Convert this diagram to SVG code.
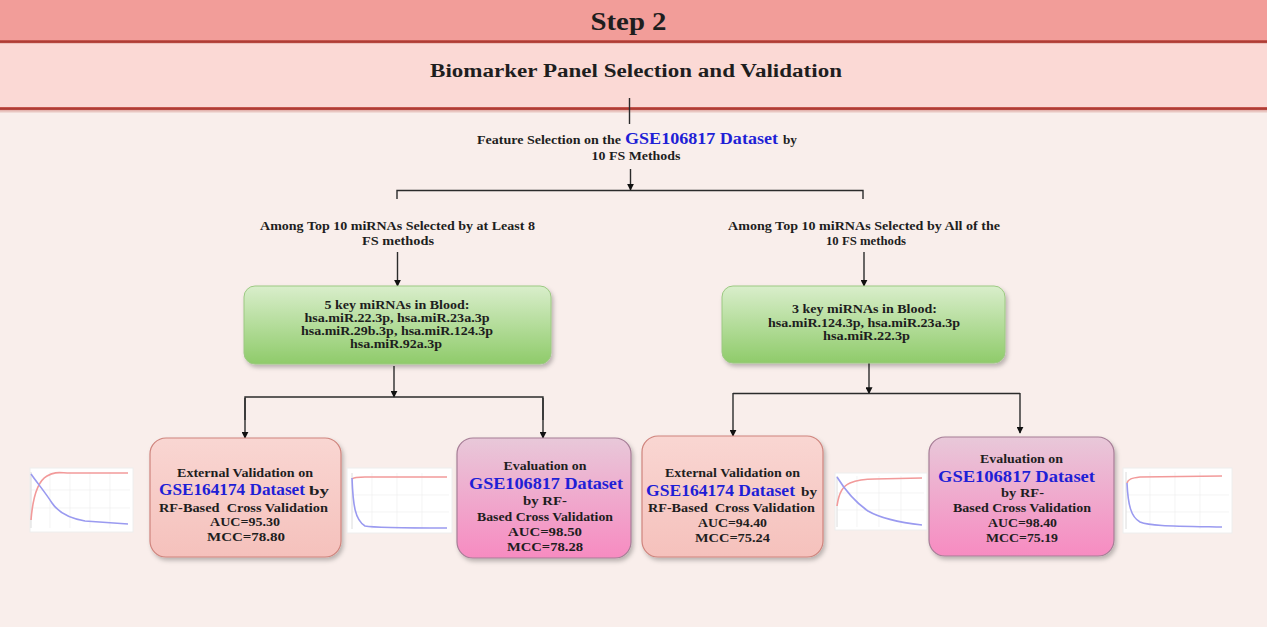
<svg xmlns="http://www.w3.org/2000/svg" width="1267" height="627" viewBox="0 0 1267 627">
<defs>
<style>
text{font-family:'Liberation Serif','Times New Roman',Times,serif;font-weight:700}
.t{fill:#1e1e1e;font-size:13.5px;text-anchor:middle}
.b{fill:#1f1fd6;font-size:16.5px}
.s{text-anchor:start}
.ln{fill:none;stroke:#2b2b2b;stroke-width:1.4}
.grid{stroke:#ececec;stroke-width:0.6}
.red{fill:none;stroke:#f29a9a;stroke-width:1.6}
.blue{fill:none;stroke:#9a9af0;stroke-width:1.6}
.chart{fill:#ffffff;stroke:#eeeeee;stroke-width:1}
</style>
<marker id="ah" viewBox="0 0 10 10" refX="9" refY="5" markerWidth="5" markerHeight="5" orient="auto" markerUnits="strokeWidth">
<path d="M0,0 L10,5 L0,10 z" fill="#111"/>
</marker>
<linearGradient id="gGreen" x1="0" y1="0" x2="0" y2="1">
<stop offset="0" stop-color="#d9eecb"/>
<stop offset="1" stop-color="#8fcb6a"/>
</linearGradient>
<linearGradient id="gPink" x1="0" y1="0" x2="0" y2="1">
<stop offset="0" stop-color="#f9d6d2"/>
<stop offset="1" stop-color="#f5c1bc"/>
</linearGradient>
<linearGradient id="gPurple" x1="0" y1="0" x2="0" y2="1">
<stop offset="0" stop-color="#e8c8d9"/>
<stop offset="1" stop-color="#f78bc1"/>
</linearGradient>
<linearGradient id="gLine" x1="0" y1="0" x2="0" y2="1">
<stop offset="0" stop-color="#d0625a"/>
<stop offset="0.5" stop-color="#a8362f"/>
<stop offset="1" stop-color="#c65a52"/>
</linearGradient>
<filter id="sh" x="-10%" y="-10%" width="125%" height="130%">
<feDropShadow dx="2" dy="3" stdDeviation="2" flood-color="#000" flood-opacity="0.25"/>
</filter>
</defs>

<rect x="0" y="0" width="1267" height="627" fill="#f9eeeb"/>

<g id="header">
<rect x="0" y="0" width="1267" height="41" fill="#f29d99"/>
<rect x="0" y="40" width="1267" height="3.5" fill="url(#gLine)"/>
<rect x="0" y="43.5" width="1267" height="63.5" fill="#fbd9d5"/>
<rect x="0" y="107" width="1267" height="3.5" fill="url(#gLine)"/>
<rect x="0" y="110.5" width="1267" height="2" fill="#e9c6c1"/>
<text class="t" x="628.5" y="30" style="font-size:26px" textLength="76" lengthAdjust="spacingAndGlyphs">Step 2</text>
<text class="t" x="636" y="77" style="font-size:18px" textLength="412" lengthAdjust="spacingAndGlyphs">Biomarker Panel Selection and Validation</text>
</g>

<g id="connectors">
<line class="ln" x1="629.5" y1="98" x2="629.5" y2="124"/>
<line class="ln" x1="630.5" y1="169" x2="630.5" y2="190" marker-end="url(#ah)"/>
<polyline class="ln" points="397,199 397,190.5 863,190.5 863,199"/>
<line class="ln" x1="397.5" y1="252" x2="397.5" y2="286" marker-end="url(#ah)"/>
<line class="ln" x1="864" y1="252" x2="864" y2="286" marker-end="url(#ah)"/>
<line class="ln" x1="394" y1="366" x2="394" y2="397" marker-end="url(#ah)"/>
<polyline class="ln" points="245,420 245,397 543,397 543,420"/>
<line class="ln" x1="245" y1="398" x2="245" y2="438" marker-end="url(#ah)"/>
<line class="ln" x1="543" y1="398" x2="543" y2="438" marker-end="url(#ah)"/>
<line class="ln" x1="869" y1="363" x2="869" y2="393.5" marker-end="url(#ah)"/>
<polyline class="ln" points="733,393.5 1020,393.5"/>
<line class="ln" x1="733" y1="393" x2="733" y2="436" marker-end="url(#ah)"/>
<line class="ln" x1="1020" y1="393" x2="1020" y2="433" marker-end="url(#ah)"/>
</g>

<g id="feature-selection">
<text class="t s" x="477" y="144" textLength="144" lengthAdjust="spacingAndGlyphs">Feature Selection on the</text>
<text class="b s" x="625" y="144" textLength="153" lengthAdjust="spacingAndGlyphs">GSE106817 Dataset</text>
<text class="t s" x="783" y="144" textLength="14" lengthAdjust="spacingAndGlyphs">by</text>
<text class="t" x="636" y="160" textLength="89" lengthAdjust="spacingAndGlyphs">10 FS Methods</text>
</g>

<g id="among-left">
<text class="t" x="397.5" y="230" textLength="275" lengthAdjust="spacingAndGlyphs">Among Top 10 miRNAs Selected by at Least 8</text>
<text class="t" x="398" y="245" textLength="72" lengthAdjust="spacingAndGlyphs">FS methods</text>
</g>

<g id="among-right">
<text class="t" x="864" y="230" textLength="272" lengthAdjust="spacingAndGlyphs">Among Top 10 miRNAs Selected by All of the</text>
<text class="t" x="866" y="245" textLength="80" lengthAdjust="spacingAndGlyphs">10 FS methods</text>
</g>

<g id="mirna5">
<rect x="244" y="286" width="307" height="78" rx="11" fill="url(#gGreen)" stroke="#9cc982" stroke-width="1" filter="url(#sh)"/>
<text class="t" x="397" y="309" textLength="145" lengthAdjust="spacingAndGlyphs">5 key miRNAs in Blood:</text>
<text class="t" x="397" y="322" textLength="185" lengthAdjust="spacingAndGlyphs">hsa.miR.22.3p, hsa.miR.23a.3p</text>
<text class="t" x="397" y="335" textLength="192" lengthAdjust="spacingAndGlyphs">hsa.miR.29b.3p, hsa.miR.124.3p</text>
<text class="t" x="396" y="348" textLength="92" lengthAdjust="spacingAndGlyphs">hsa.miR.92a.3p</text>
</g>

<g id="mirna3">
<rect x="722" y="286" width="283" height="77" rx="11" fill="url(#gGreen)" stroke="#9cc982" stroke-width="1" filter="url(#sh)"/>
<text class="t" x="864.5" y="313" textLength="145" lengthAdjust="spacingAndGlyphs">3 key miRNAs in Blood:</text>
<text class="t" x="864" y="327" textLength="192" lengthAdjust="spacingAndGlyphs">hsa.miR.124.3p, hsa.miR.23a.3p</text>
<text class="t" x="866.5" y="340" textLength="87" lengthAdjust="spacingAndGlyphs">hsa.miR.22.3p</text>
</g>

<g id="ext-val-left">
<rect x="150" y="438" width="191" height="119" rx="16" fill="url(#gPink)" stroke="#cf847d" stroke-width="1.2" filter="url(#sh)"/>
<text class="t" x="245" y="477" textLength="136" lengthAdjust="spacingAndGlyphs">External Validation on</text>
<text class="b s" x="159" y="495" textLength="146" lengthAdjust="spacingAndGlyphs">GSE164174 Dataset</text>
<text class="t s" x="309" y="495" textLength="20" lengthAdjust="spacingAndGlyphs">by</text>
<text class="t" x="243.5" y="512" textLength="169" lengthAdjust="spacingAndGlyphs">RF-Based&#160; Cross Validation</text>
<text class="t" x="245" y="526" textLength="70" lengthAdjust="spacingAndGlyphs">AUC=95.30</text>
<text class="t" x="246" y="541" textLength="78" lengthAdjust="spacingAndGlyphs">MCC=78.80</text>
</g>

<g id="eval-left">
<rect x="457" y="438" width="174" height="120" rx="16" fill="url(#gPurple)" stroke="#a67d96" stroke-width="1.2" filter="url(#sh)"/>
<text class="t" x="545" y="470" textLength="83" lengthAdjust="spacingAndGlyphs">Evaluation on</text>
<text class="b" x="546" y="489" text-anchor="middle" textLength="154" lengthAdjust="spacingAndGlyphs">GSE106817 Dataset</text>
<text class="t" x="545" y="505" textLength="44" lengthAdjust="spacingAndGlyphs">by RF-</text>
<text class="t" x="545" y="521" textLength="136" lengthAdjust="spacingAndGlyphs">Based Cross Validation</text>
<text class="t" x="545" y="536" textLength="74" lengthAdjust="spacingAndGlyphs">AUC=98.50</text>
<text class="t" x="545" y="551" textLength="76" lengthAdjust="spacingAndGlyphs">MCC=78.28</text>
</g>

<g id="ext-val-right">
<rect x="642" y="436" width="181" height="121" rx="16" fill="url(#gPink)" stroke="#cf847d" stroke-width="1.2" filter="url(#sh)"/>
<text class="t" x="732.5" y="477" textLength="135" lengthAdjust="spacingAndGlyphs">External Validation on</text>
<text class="b s" x="646" y="496" textLength="149" lengthAdjust="spacingAndGlyphs">GSE164174 Dataset</text>
<text class="t s" x="801" y="496" textLength="16" lengthAdjust="spacingAndGlyphs">by</text>
<text class="t" x="731.5" y="512" textLength="167" lengthAdjust="spacingAndGlyphs">RF-Based&#160; Cross Validation</text>
<text class="t" x="732.5" y="527" textLength="69" lengthAdjust="spacingAndGlyphs">AUC=94.40</text>
<text class="t" x="732.5" y="542" textLength="75" lengthAdjust="spacingAndGlyphs">MCC=75.24</text>
</g>

<g id="eval-right">
<rect x="929" y="437" width="185" height="119" rx="16" fill="url(#gPurple)" stroke="#a67d96" stroke-width="1.2" filter="url(#sh)"/>
<text class="t" x="1021.5" y="463" textLength="83" lengthAdjust="spacingAndGlyphs">Evaluation on</text>
<text class="b" x="1016.5" y="482" text-anchor="middle" textLength="157" lengthAdjust="spacingAndGlyphs">GSE106817 Dataset</text>
<text class="t" x="1022.5" y="497" textLength="43" lengthAdjust="spacingAndGlyphs">by RF-</text>
<text class="t" x="1022" y="512" textLength="138" lengthAdjust="spacingAndGlyphs">Based Cross Validation</text>
<text class="t" x="1022.5" y="527" textLength="69" lengthAdjust="spacingAndGlyphs">AUC=98.40</text>
<text class="t" x="1022" y="542" textLength="72" lengthAdjust="spacingAndGlyphs">MCC=75.19</text>
</g>

<g id="chart1">
<rect class="chart" x="30" y="468" width="103" height="64"/>
<path class="grid" d="M50,472V528M70,472V528M90,472V528M110,472V528M31,490H130M31,508H130"/>
<line x1="31" y1="472" x2="31" y2="528" stroke="#dcdcdc" stroke-width="1"/>
<path class="red" d="M31,520 C33,495 38,481 47,476 S60,473 70,473 L128,473"/>
<path class="blue" d="M31,474 C38,484 45,492 52,503 C58,512 68,518 85,521 L128,524"/>
</g>
<g id="chart2">
<rect class="chart" x="347" y="468" width="105" height="65"/>
<path class="grid" d="M372,473V529M397,473V529M422,473V529M352,495H449M352,512H449"/>
<line x1="352" y1="473" x2="352" y2="529" stroke="#dcdcdc" stroke-width="1"/>
<path class="red" d="M352,479 C354,477 358,477 365,477 L447,477"/>
<path class="blue" d="M352,478 C353,505 355,520 365,526 C375,528 400,528 447,528"/>
</g>
<g id="chart3">
<rect class="chart" x="835" y="473" width="92" height="57"/>
<path class="grid" d="M857,476V527M879,476V527M901,476V527M837,493H924M837,510H924"/>
<line x1="837" y1="476" x2="837" y2="527" stroke="#dcdcdc" stroke-width="1"/>
<path class="red" d="M837,506 C839,492 843,486 850,483 C857,480 865,479 875,479 L922,478"/>
<path class="blue" d="M837,477 C845,490 855,502 868,511 C880,518 895,522 922,525"/>
</g>
<g id="chart4">
<rect class="chart" x="1123" y="468" width="109" height="65"/>
<path class="grid" d="M1150,472V529M1175,472V529M1200,472V529M1126,495H1229M1126,512H1229"/>
<line x1="1126" y1="472" x2="1126" y2="529" stroke="#dcdcdc" stroke-width="1"/>
<path class="red" d="M1127,483 C1128,479 1132,478 1140,477 L1222,476"/>
<path class="blue" d="M1127,483 C1128,505 1131,517 1140,522 C1150,526 1170,526 1222,527"/>
</g>
</svg>
